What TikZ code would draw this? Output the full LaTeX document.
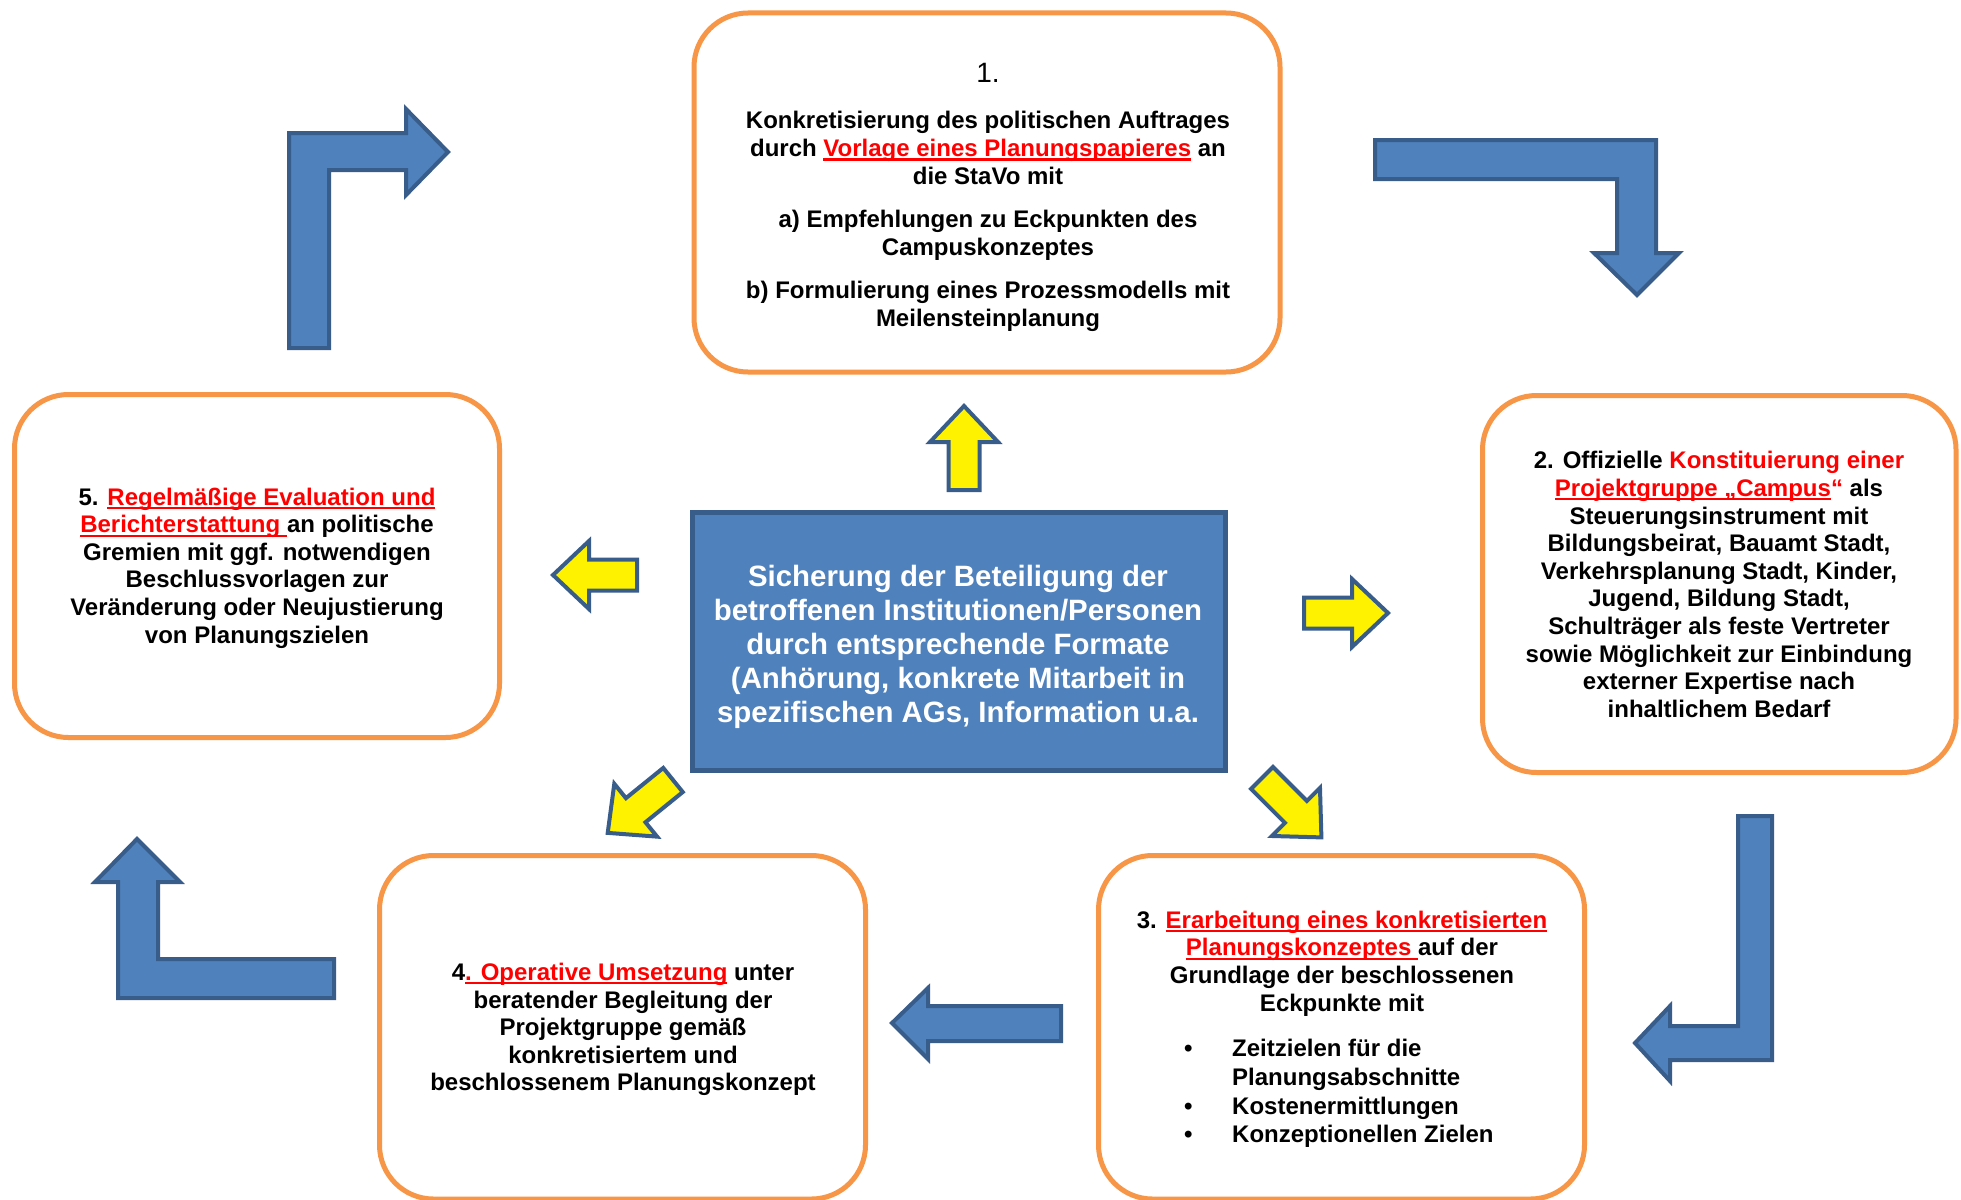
\documentclass[tikz,border=0pt]{standalone}
\usepackage{fontspec}
\setmainfont{Liberation Sans}
\definecolor{orng}{HTML}{F79646}
\definecolor{bfill}{HTML}{4F81BD}
\definecolor{bline}{HTML}{385D8A}
\definecolor{ured}{HTML}{FF0000}
\newsavebox{\ulbox}
\newcommand{\undl}[1]{\sbox{\ulbox}{#1}\rlap{\rule[-4pt]{\wd\ulbox}{2.2pt}}\usebox{\ulbox}}
\newcommand{\ru}[1]{\textcolor{ured}{\undl{#1}}}
\tikzset{
  obox/.style={draw=orng, line width=5pt, rounded corners=54pt, fill=white, inner sep=0pt},
  cbox/.style={draw=bline, line width=4.5pt, fill=bfill, inner sep=0pt},
  txt/.style={inner sep=0pt, align=center, font=\fontsize{24}{27.6}\selectfont\bfseries},
  ctxt/.style={inner sep=0pt, align=center, text=white, font=\fontsize{29.4}{34}\selectfont\bfseries},
  bluearrow/.style={draw=bline, fill=bfill, line width=4pt, line join=miter},
  yarrowstyle/.style={draw=bline, fill=yellow, line width=4pt, line join=miter},
  yellowarrow/.pic={\path[yarrowstyle] (0,-15.5) -- (48,-15.5) -- (48,-34) -- (84,0) -- (48,34) -- (48,15.5) -- (0,15.5) -- cycle;}
}
\begin{document}
\begin{tikzpicture}[x=1pt,y=-1pt]
\fill[white] (0,0) rectangle (1961,1199);
\useasboundingbox (0,0) rectangle (1961,1199);

% boxes
\node[obox, minimum width=586pt, minimum height=359pt] (b1) at (987,192.5) {};
\node[obox, minimum width=485pt, minimum height=343pt] (b5) at (257,566) {};
\node[obox, minimum width=473.5pt, minimum height=377pt] (b2) at (1719.25,584) {};
\node[obox, minimum width=486pt, minimum height=343.5pt] (b3) at (1341.5,1027.25) {};
\node[obox, minimum width=486pt, minimum height=343.5pt] (b4) at (622.5,1027.25) {};
\node[cbox, minimum width=533pt, minimum height=258pt] (bc) at (959,641.5) {};

% box 1 text
\node[txt, font=\fontsize{28}{32}\selectfont] (t1n) at (988,73) {1.};
\node[txt] (t1a) at (988,148) {Konkretisierung des politischen Auftrages\\ durch \ru{Vorlage eines Planungspapieres} an\\ die StaVo mit};
\node[txt] (t1b) at (988,235.5) {a) Empfehlungen zu Eckpunkten des\\ Campuskonzeptes};
\node[txt] (t1c) at (988,306.5) {b) Formulierung eines Prozessmodells mit\\ Meilensteinplanung};

% box 5 text
\node[txt] (t5) at (257,568) {5. \ru{Regelmäßige Evaluation und}\\ \ru{Berichterstattung }an politische\\ Gremien mit ggf. notwendigen\\ Beschlussvorlagen zur\\ Veränderung oder Neujustierung\\ von Planungszielen};

% box 2 text
\node[txt] (t2) at (1719,584.5) {2. Offizielle \textcolor{ured}{Konstituierung einer}\\ \textcolor{ured}{\undl{Projektgruppe „Campus}“} als\\ Steuerungsinstrument mit\\ Bildungsbeirat, Bauamt Stadt,\\ Verkehrsplanung Stadt, Kinder,\\ Jugend, Bildung Stadt,\\ Schulträger als feste Vertreter\\ sowie Möglichkeit zur Einbindung\\ externer Expertise nach\\ inhaltlichem Bedarf};

% box 3 text
\node[txt] (t3) at (1342,963.5) {3. \ru{Erarbeitung eines konkretisierten}\\ \ru{Planungskonzeptes }auf der\\ Grundlage der beschlossenen\\ Eckpunkte mit};
\node[txt, anchor=west, font=\fontsize{24}{28.8}\selectfont\bfseries] (t3l) at (1184,1094) {\begin{tabular}{@{}p{48pt}@{}l@{}}\textbullet & Zeitzielen für die\\ & Planungsabschnitte\\ \textbullet & Kostenermittlungen\\ \textbullet & Konzeptionellen Zielen\end{tabular}};

% box 4 text
\node[txt] (t4) at (623,1029.5) {4\ru{. Operative Umsetzung} unter\\ beratender Begleitung der\\ Projektgruppe gemäß\\ konkretisiertem und\\ beschlossenem Planungskonzept};

% central text
\node[ctxt] (tc) at (958,646.5) {Sicherung der Beteiligung der\\ betroffenen Institutionen/Personen\\ durch entsprechende Formate\\ (Anhörung, konkrete Mitarbeit in\\ spezifischen AGs, Information u.a.};

% blue bent arrows
\path[bluearrow] (289,348) -- (289,133) -- (406,133) -- (406,109) -- (448,152) -- (406,195) -- (406,170) -- (329,170) -- (329,348) -- cycle;
\path[bluearrow] (1375,140) -- (1656,140) -- (1656,253) -- (1679,253) -- (1637,295) -- (1594,253) -- (1617,253) -- (1617,179) -- (1375,179) -- cycle;
\path[bluearrow] (1738,816) -- (1772,816) -- (1772,1060) -- (1670,1060) -- (1670,1081) -- (1635,1043) -- (1670,1006) -- (1670,1026) -- (1738,1026) -- cycle;
\path[bluearrow] (334,959) -- (334,998) -- (118,998) -- (118,882) -- (95,882) -- (137,839) -- (180,882) -- (158,882) -- (158,959) -- cycle;
\path[bluearrow] (1061,1006) -- (1061,1041) -- (928,1041) -- (928,1059) -- (892,1023) -- (928,988) -- (928,1006) -- cycle;

% yellow arrows
\pic[rotate=90] (yup) at (964,490) {yellowarrow};
\pic[rotate=180] (yleft) at (637,575) {yellowarrow};
\pic[rotate=0] (yright) at (1304,613) {yellowarrow};
\pic[rotate=-45] (ydr) at (1262,778) {yellowarrow};
\pic[rotate=-141] (ydl) at (673,780) {yellowarrow};
\end{tikzpicture}
\end{document}
